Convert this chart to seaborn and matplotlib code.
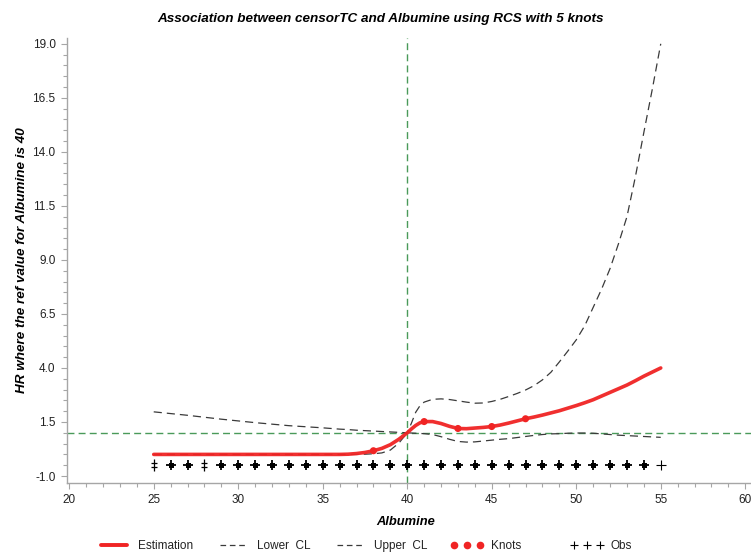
import numpy as np
import pandas as pd
import matplotlib
matplotlib.use("Agg")
import matplotlib.pyplot as plt
from matplotlib.lines import Line2D
from matplotlib.path import Path
import seaborn as sns

# ---------------- data ----------------
albumin = [25, 26, 27, 28, 29, 30, 31, 32, 33, 34, 35, 36, 36.5, 37, 37.5, 38, 38.5,
           39, 39.5, 40, 40.25, 40.5, 40.75, 41, 41.5, 42, 42.5, 43, 43.5, 44, 44.5,
           45, 45.5, 46, 46.5, 47, 47.5, 48, 48.5, 49, 49.5, 50, 50.5, 51, 51.5, 52,
           52.5, 53, 53.5, 54, 54.5, 55]
estimate = [0.0, 0.0, 0.0, 0.0, 0.0, 0.0, 0.0, 0.0, 0.0, 0.0, 0.0, 0.0, 0.01, 0.04, 0.09,
            0.17, 0.28, 0.45, 0.70, 1.0, 1.18, 1.34, 1.46, 1.52, 1.52, 1.43, 1.30, 1.20,
            1.19, 1.22, 1.25, 1.29, 1.36, 1.45, 1.55, 1.65, 1.73, 1.82, 1.92, 2.02, 2.14,
            2.26, 2.39, 2.53, 2.70, 2.87, 3.04, 3.21, 3.41, 3.62, 3.81, 4.0]
lower_cl = [0.0, 0.0, 0.0, 0.0, 0.0, 0.0, 0.0, 0.0, 0.0, 0.0, 0.0, 0.0, 0.0, 0.0, 0.01,
            0.03, 0.07, 0.20, 0.52, 1.0, 0.99, 0.98, 0.97, 0.96, 0.92, 0.82, 0.70, 0.60,
            0.57, 0.58, 0.62, 0.66, 0.70, 0.73, 0.78, 0.83, 0.88, 0.92, 0.95, 0.96, 0.98,
            0.99, 0.99, 0.98, 0.95, 0.92, 0.89, 0.87, 0.85, 0.83, 0.81, 0.79]
upper_cl = [1.97, 1.89, 1.81, 1.72, 1.63, 1.55, 1.47, 1.40, 1.33, 1.28, 1.23, 1.17, 1.15,
            1.12, 1.10, 1.08, 1.06, 1.04, 1.02, 1.0, 1.45, 1.95, 2.25, 2.42, 2.55, 2.57,
            2.54, 2.48, 2.42, 2.37, 2.38, 2.45, 2.55, 2.68, 2.82, 2.98, 3.18, 3.45, 3.80,
            4.28, 4.78, 5.30, 5.95, 6.80, 7.65, 8.60, 9.75, 11.0, 12.85, 14.9, 16.9, 19.0]

knot_x = [38, 41, 43, 45, 47]
knot_y = [0.17, 1.52, 1.20, 1.29, 1.65]

obs_x = list(range(25, 56))
obs_y = [-0.5] * len(obs_x)
obs_kind = ["double", "dense", "dense", "double"] + ["dense"] * 26 + ["single"]

ref_x = 40
ref_hr = 1.0

x_ticks = [20, 25, 30, 35, 40, 45, 50, 55, 60]
y_ticks = [-1.0, 1.5, 4.0, 6.5, 9.0, 11.5, 14.0, 16.5, 19.0]

title = "Association between censorTC and Albumine using RCS with 5 knots"
xlabel = "Albumine"
ylabel = "HR where the ref value for Albumine is 40"
legend_labels = ["Estimation", "Lower  CL", "Upper  CL", "Knots", "Obs"]

# ---------------- style ----------------
sns.set_style("ticks")
plt.rcParams["font.family"] = ["Liberation Sans", "DejaVu Sans"]
AX_GRAY = "#a6a6a6"
TXT = "#222222"
GREEN = "#4a9a5a"
RED = "#f02424"
CLC = "#3a3a3a"

fig = plt.figure(figsize=(7.51, 5.52), dpi=100)
ax = fig.add_axes([0.0888, 0.1255, 0.9112, 0.8057])

df = pd.DataFrame({"albumin": albumin, "estimate": estimate,
                   "lower": lower_cl, "upper": upper_cl})

# reference lines
ax.axvline(ref_x, color=GREEN, lw=1.0, linestyle=(0, (5, 3)), zorder=1)
ax.axhline(ref_hr, color=GREEN, lw=1.0, linestyle=(0, (5, 3)), zorder=1)

sns.lineplot(data=df, x="albumin", y="lower", ax=ax, color=CLC, lw=0.9,
             linestyle=(0, (6.5, 4)), zorder=2)
sns.lineplot(data=df, x="albumin", y="upper", ax=ax, color=CLC, lw=0.9,
             linestyle=(0, (6.5, 4)), zorder=2)
sns.lineplot(data=df, x="albumin", y="estimate", ax=ax, color=RED, lw=2.6,
             zorder=3, alpha=0.95)
sns.scatterplot(x=knot_x, y=knot_y, ax=ax, color=RED, s=26, edgecolor="none",
                zorder=4)

# obs markers
dbl = Path([(0, -1), (0, 1), (-0.6, 0.3), (0.6, 0.3), (-0.6, -0.3), (0.6, -0.3)],
           [Path.MOVETO, Path.LINETO, Path.MOVETO, Path.LINETO, Path.MOVETO, Path.LINETO])
ox = np.array(obs_x, dtype=float)
oy = np.array(obs_y, dtype=float)
kind = np.array(obs_kind)
m = kind == "dense"
ax.plot(ox[m], oy[m], ls="none", marker="+", ms=7, mew=1.3, color="black", zorder=5)
ax.plot(ox[m], oy[m], ls="none", marker="s", ms=3.6, mew=0, color="black", zorder=5)
m = kind == "double"
ax.plot(ox[m], oy[m], ls="none", marker=dbl, ms=8, mew=0.9, color="black", zorder=5)
m = kind == "single"
ax.plot(ox[m], oy[m], ls="none", marker="+", ms=7, mew=0.8, color="black", zorder=5)

# axes
ax.set_xlim(19.85, 60.34)
ax.set_ylim(-1.31, 19.27)
ax.set_xticks(x_ticks)
ax.set_xticklabels([f"{v:d}" for v in x_ticks])
ax.set_xticks(np.arange(20, 61, 1), minor=True)
ax.set_yticks(y_ticks)
ax.set_yticklabels([f"{v:.1f}" for v in y_ticks])
ax.set_yticks(np.arange(-1.0, 19.01, 0.5), minor=True)
for s in ["top", "right"]:
    ax.spines[s].set_visible(False)
for s in ["left", "bottom"]:
    ax.spines[s].set_color(AX_GRAY)
    ax.spines[s].set_linewidth(1.0)
ax.tick_params(which="major", direction="out", length=4, width=0.8, color=AX_GRAY,
               labelsize=8.5, labelcolor=TXT, pad=4)
ax.tick_params(which="minor", direction="out", length=3, width=0.8, color=AX_GRAY)
ax.set_xlabel(xlabel, fontsize=9.3, fontweight="bold", fontstyle="italic", va="center",
              color="black")
ax.xaxis.set_label_coords(0.496, -0.088)
ax.set_ylabel(ylabel, fontsize=9.7, fontweight="bold", fontstyle="italic", va="center",
              color="black")
ax.yaxis.set_label_coords(-0.0653, 0.5)
ax.grid(False)

fig.text(0.507, 0.9656, title, ha="center", va="center", fontsize=9.7,
         fontweight="bold", fontstyle="italic", color="black")

handles = [
    Line2D([], [], color=RED, lw=2.8),
    Line2D([], [], color=CLC, lw=0.9, linestyle=(0, (4.5, 3))),
    Line2D([], [], color=CLC, lw=0.9, linestyle=(0, (4.5, 3))),
    Line2D([], [], color=RED, ls="none", marker="o", ms=5.5, mec="none"),
    Line2D([], [], color="black", ls="none", marker="+", ms=6, mew=0.8),
]
labels = [legend_labels[0], legend_labels[1], legend_labels[2],
          legend_labels[3] + "        ", legend_labels[4]]
fig.legend(handles, labels, loc="center", bbox_to_anchor=(0.486, 0.011), ncol=5,
           frameon=False, numpoints=3, handlelength=2.8, columnspacing=2.0,
           handletextpad=0.6, fontsize=8.5, labelcolor=TXT)

fig.savefig("out.png", dpi=100)
